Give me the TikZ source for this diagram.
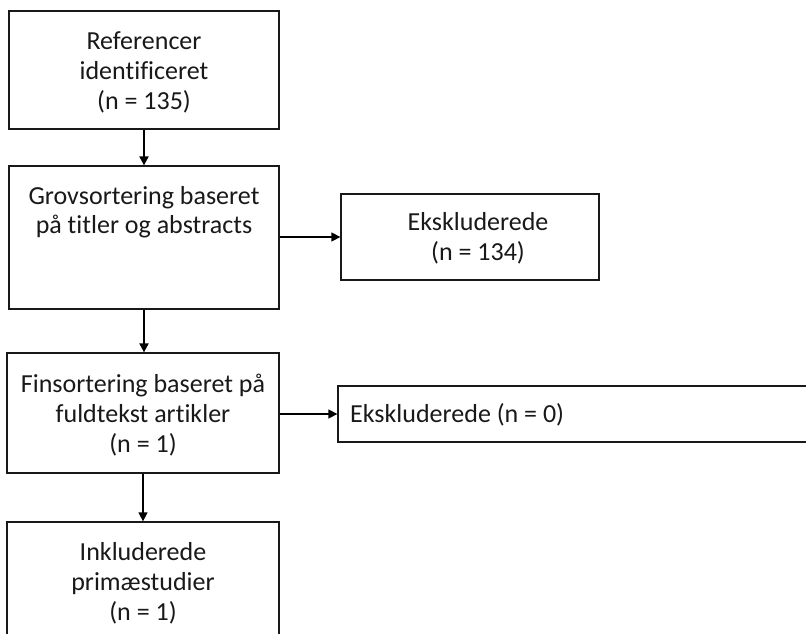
\documentclass[tikz,border=0pt]{standalone}
\usepackage{fontspec}
\setmainfont{Carlito}[RawFeature={-liga;-clig}]
\usetikzlibrary{arrows.meta}
\begin{document}
\begin{tikzpicture}[x=1pt,y=-1pt,
  box/.style={draw=black!90, line width=1.3pt, rectangle, inner sep=0pt},
  lbl/.style={font=\fontsize{26}{30}\selectfont, text=black!90, inner sep=0pt, anchor=base},
  lbll/.style={lbl, anchor=base west},
  thick arrow/.style={line width=2pt, -{Triangle[length=9pt,width=9pt]}},
  thin arrow/.style={line width=1.3pt, -{Triangle[length=9pt,width=9pt]}}]
\clip (0,0) rectangle (806,633);
\fill[white] (0,0) rectangle (806,633);
% boxes
\node[box, minimum width=270, minimum height=118] (b1) at (144,70) {};
\node[box, minimum width=270, minimum height=143] (b2) at (144,237.5) {};
\node[box, minimum width=272, minimum height=120] (b3) at (143,413) {};
\node[box, minimum width=272, minimum height=128] (b4) at (143,586) {};
\node[box, minimum width=258, minimum height=86] (e1) at (470,237) {};
\node[box, minimum width=482, minimum height=56] (e2) at (579,414) {};
% labels
\node[lbl] (t1a) at (144,49) {Referencer};
\node[lbl] (t1b) at (144,79) {identificeret};
\node[lbl] (t1c) at (144,109) {(n = 135)};
\node[lbl] (t2a) at (144,204) {Grovsortering baseret};
\node[lbl] (t2b) at (144,233) {på titler og abstracts};
\node[lbl] (t3a) at (143,392) {Finsortering baseret på};
\node[lbl] (t3b) at (143,422) {fuldtekst artikler};
\node[lbl] (t3c) at (143,452) {(n = 1)};
\node[lbl] (t4a) at (143,560) {Inkluderede};
\node[lbl] (t4b) at (143,590) {primæstudier};
\node[lbl] (t4c) at (143,620) {(n = 1)};
\node[lbl] (te1a) at (478,230) {Ekskluderede};
\node[lbl] (te1b) at (478,260) {(n = 134)};
\node[lbll] (te2) at (350,422) {Ekskluderede (n = 0)};
% connectors
\draw[thick arrow] (b1.south) -- (b2.north);
\draw[thick arrow] (b2.south) -- (b2.south |- b3.north);
\draw[thin arrow] (b3.south) -- (b4.north);
\draw[thin arrow] (b2.east |- e1.west) -- (e1.west);
\draw[thin arrow] (b3.east |- e2.west) -- (e2.west);
\end{tikzpicture}
\end{document}
